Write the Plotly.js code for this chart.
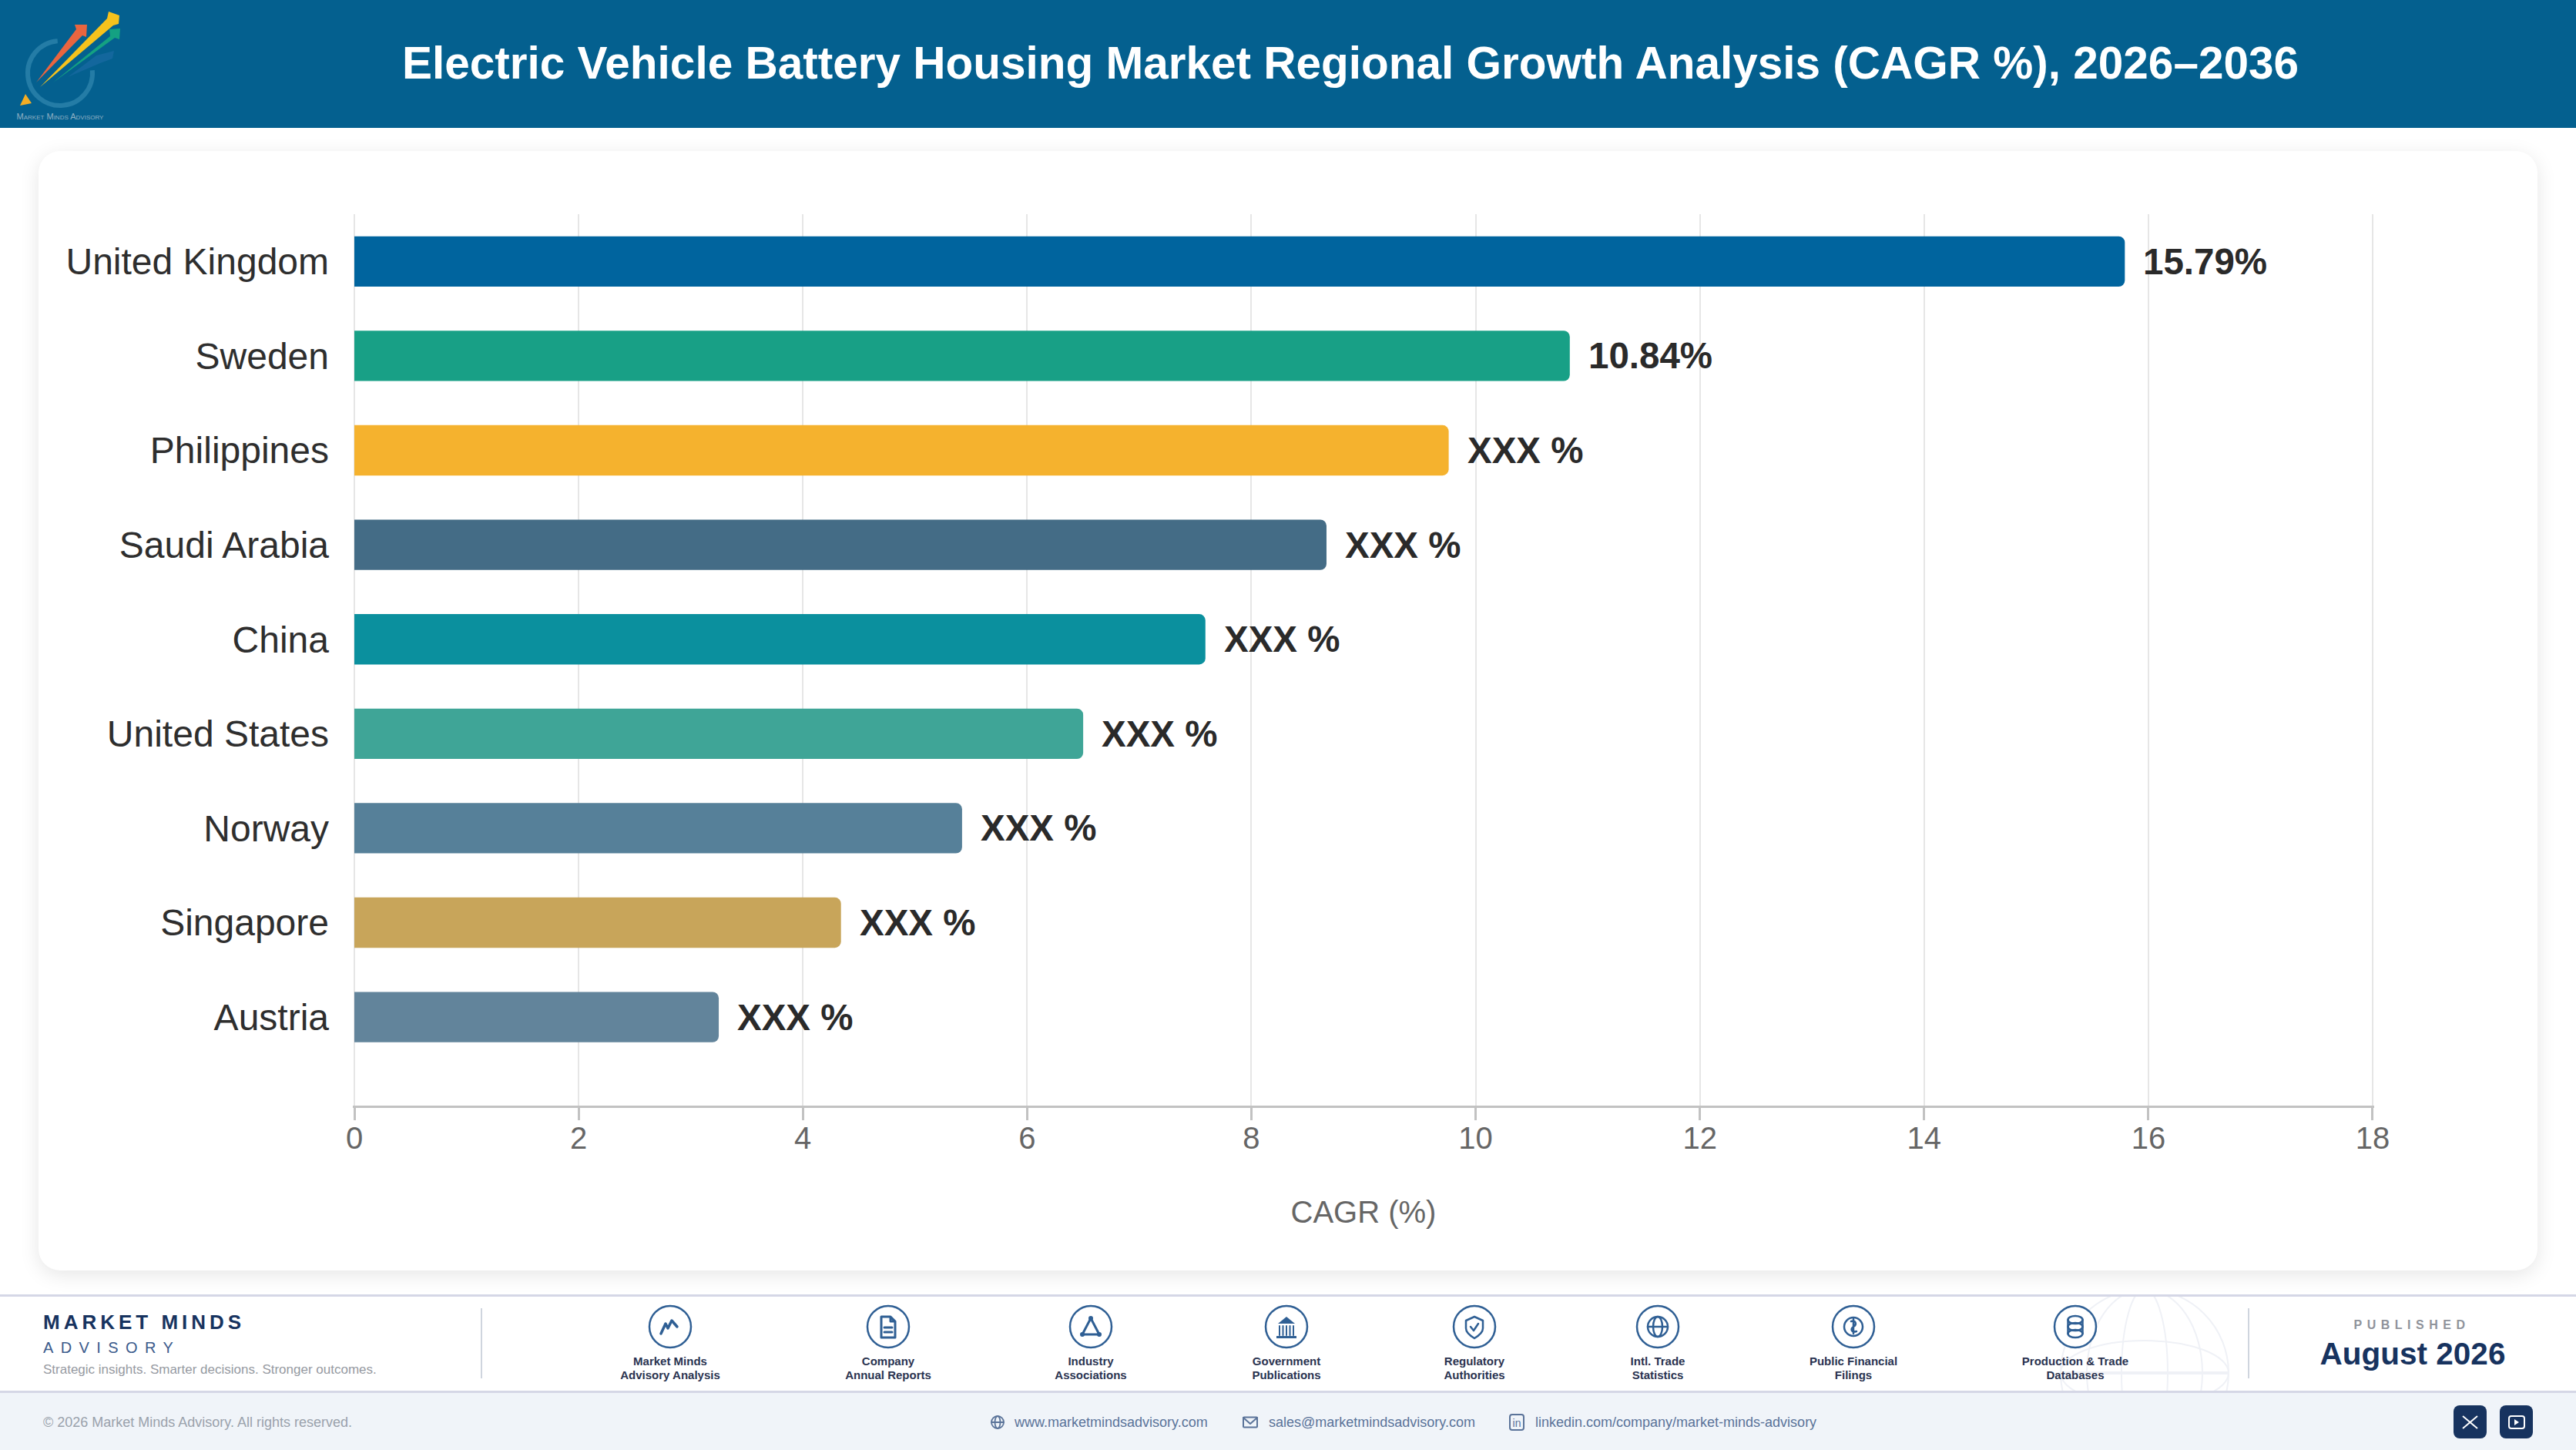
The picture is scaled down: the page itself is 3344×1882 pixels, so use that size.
<!DOCTYPE html>
<html><head><meta charset="utf-8">
<script src="https://cdn.plot.ly/plotly-3.0.1.min.js"></script>
<style>
html,body{margin:0;padding:0;width:3344px;height:1882px;background:#fff;overflow:hidden;font-family:"Liberation Sans",Arial,sans-serif}
.abs{position:absolute}
.t{position:absolute;white-space:nowrap;line-height:1}
.c{transform:translate(-50%,-50%)}
.l{transform:translateY(-50%)}
svg{position:absolute;left:0;top:0}
</style></head><body>
<div class="abs" style="left:0;top:0;width:3344px;height:166px;background:#04608f"></div>
<div class="abs" style="left:50px;top:196px;width:3244px;height:1453px;background:#fff;border-radius:28px;box-shadow:0 6px 26px rgba(0,0,0,0.10)"></div>
<div class="abs" style="left:0;top:1680px;width:3344px;height:202px;background:#fff"></div>
<div class="abs" style="left:0;top:1680px;width:3344px;height:3px;background:#d5d7e6"></div>
<div class="abs" style="left:0;top:1805px;width:3344px;height:77px;background:#f0f4f9;border-top:3px solid #d5d7e6;box-sizing:border-box"></div>
<div class="abs" style="left:624px;top:1698px;width:2px;height:91px;background:#cfd5de"></div>
<div class="abs" style="left:2918px;top:1698px;width:2px;height:91px;background:#cfd5de"></div>
<svg id="art" width="3344" height="1882" viewBox="0 0 3344 1882"></svg>
<div id="chrome"></div>
<div id="plot" class="abs" style="left:0;top:0;width:3344px;height:1882px"></div>
<script>
var categories = ["United Kingdom","Sweden","Philippines","Saudi Arabia","China","United States","Norway","Singapore","Austria"];
var cagrValues = [15.79,10.84,9.76,8.67,7.59,6.5,5.42,4.34,3.25];
var valueLabels = ["15.79%","10.84%","XXX %","XXX %","XXX %","XXX %","XXX %","XXX %","XXX %"];
var barColors = ["#00649e","#18a086","#f5b22e","#446c86","#0b909e","#3fa597","#568099","#c8a55a","#62849b"];
var xTicks = [0,2,4,6,8,10,12,14,16,18];
var chartTitle = "Electric Vehicle Battery Housing Market Regional Growth Analysis (CAGR %), 2026–2036";
var xTitle = "CAGR (%)";
var sourceLabels = [["Market Minds","Advisory Analysis"],["Company","Annual Reports"],["Industry","Associations"],["Government","Publications"],["Regulatory","Authorities"],["Intl. Trade","Statistics"],["Public Financial","Filings"],["Production & Trade","Databases"]];
var sourceCenters = [870,1153,1416,1670,1914,2152,2406,2694];

var FONT = '"Liberation Sans", Arial, sans-serif';
var traces = [{
  type:'bar', orientation:'h', y:categories, x:cagrValues, width:0.533,
  marker:{color:barColors,line:{width:0}}, hoverinfo:'skip', showlegend:false
}];
var annotations = categories.map(function(c,i){
  return {x:cagrValues[i],y:c,xref:'x',yref:'y',text:valueLabels[i],showarrow:false,xanchor:'left',yanchor:'middle',xshift:22,
    font:{family:FONT,size:47.5,color:'#2a2a2a',weight:700}};
});
var layout = {
  width:3344,height:1882,paper_bgcolor:'rgba(0,0,0,0)',plot_bgcolor:'rgba(0,0,0,0)',
  margin:{l:458,r:262,t:278,b:447,pad:0},font:{family:FONT},barcornerradius:8,showlegend:false,
  title:{text:chartTitle,xref:'container',yref:'container',x:1753/3344,xanchor:'center',y:1-82/1882,yanchor:'middle',
    font:{family:FONT,size:58.5,color:'#ffffff',weight:700}},
  xaxis:{range:[-0.0138,18.0138],tickmode:'array',tickvals:xTicks,ticktext:xTicks.map(String),automargin:false,
    showgrid:true,gridcolor:'#e6e6e6',gridwidth:2,zeroline:false,showline:true,linecolor:'#c2c2c2',linewidth:3,
    ticks:'outside',ticklen:16,tickwidth:3,tickcolor:'#c2c2c2',ticklabelstandoff:-11,tickfont:{family:FONT,size:40,color:'#666666'},
    title:{text:xTitle,font:{family:FONT,size:40,color:'#666666'},standoff:61}},
  yaxis:{type:'category',categoryorder:'array',categoryarray:categories,range:[8.937,-0.5],automargin:false,
    showgrid:false,zeroline:false,showline:false,ticks:'',ticklabelstandoff:30,
    tickfont:{family:FONT,size:48,color:'#2e2e2e'}},
  annotations:annotations
};
Plotly.newPlot('plot',traces,layout,{displayModeBar:false,staticPlot:true});

// page furniture
var chrome=document.getElementById('chrome');
function txt(s,x,y,size,color,opt){opt=opt||{};var d=document.createElement('div');d.className='t '+(opt.center?'c':'l');d.textContent=s;
  d.style.cssText+=';left:'+x+'px;top:'+y+'px;font-size:'+size+'px;color:'+color+';font-weight:'+(opt.bold?700:400)+';letter-spacing:'+(opt.ls||0)+'px'+(opt.extra?';'+opt.extra:'');chrome.appendChild(d);}
txt("MARKET MINDS",56,1716,26,"#17335f",{bold:true,ls:5});
txt("ADVISORY",56,1749,20,"#3b5b8c",{ls:9.4});
txt("Strategic insights. Smarter decisions. Stronger outcomes.",56,1777,17,"#969aa2");
txt("© 2026 Market Minds Advisory. All rights reserved.",56,1846,18,"#9aa2ac");
txt("www.marketmindsadvisory.com",1317,1846,18,"#5a7399");
txt("sales@marketmindsadvisory.com",1647,1846,18,"#5a7399");
txt("linkedin.com/company/market-minds-advisory",1993,1846,18,"#5a7399");
txt("PUBLISHED",3131,1720,16,"#8f939b",{center:true,bold:true,ls:6.5});
txt("August 2026",3132,1757,40.5,"#17335f",{center:true,bold:true});
txt("Market Minds Advisory",78,151,11,"#8fb0c4",{center:true,extra:'font-variant:small-caps'});
sourceLabels.forEach(function(l,i){
  txt(l[0],sourceCenters[i],1766,15,"#2a3350",{center:true,bold:true});
  txt(l[1],sourceCenters[i],1784,15,"#2a3350",{center:true,bold:true});
});

var B='#2f5f94';
function s(o){return ' fill="'+(o&&o.f||'none')+'" stroke="'+(o&&o.c||B)+'" stroke-width="'+(o&&o.w||2.5)+'" stroke-linejoin="round" stroke-linecap="round" ';}
var icons=[
 '<polyline points="-12,9 -6,-4 -3,2 2,-8 9,0"'+s({w:3.5})+'/>',
 '<path d="M-9,-13 H3 L9,-7 V14 H-9 Z M3,-13 V-7 H9 M-5,1 H5 M-5,7 H5"'+s({w:3})+'/>',
 '<path d="M0,-11 L-11,10 H11 Z"'+s({w:3})+'/><circle cx="0" cy="-11" r="3" fill="'+B+'"/><circle cx="-11" cy="10" r="3" fill="'+B+'"/><circle cx="11" cy="10" r="3" fill="'+B+'"/>',
 '<path d="M0,-13 L11,-4 H-11 Z" fill="'+B+'"/><path d="M-9,-1 V11 M-4.500,-1 V11 M0,-1 V11 M4.500,-1 V11 M9,-1 V11"'+s({w:2})+'/><rect x="-13" y="12" width="26" height="3" fill="'+B+'"/>',
 '<path d="M0,-13 L11,-8 V2 C11,8 5,12 0,15 C-5,12 -11,8 -11,2 V-8 Z"'+s()+'/><path d="M-5,0 L-1,5 L5,-4"'+s()+'/>',
 '<circle r="13"'+s()+'/><ellipse rx="6" ry="13"'+s()+'/><path d="M-13,0 H13"'+s()+'/>',
 '<circle r="12"'+s()+'/><path d="M-3,-7 C3,-9 5,-3 0,0 C-4,3 -3,8 4,6 M0,-10 V9"'+s()+'/>',
 '<ellipse cx="0" cy="-9" rx="9.500" ry="5"'+s()+'/><ellipse cx="0" cy="0" rx="9.500" ry="5"'+s()+'/><ellipse cx="0" cy="9" rx="9.500" ry="5"'+s()+'/><path d="M-9.500,-9 V9 M9.500,-9 V9"'+s()+'/>'
];
var h='<defs><clipPath id="fc"><rect x="0" y="1683" width="3344" height="122"/></clipPath></defs>';
// faint globe watermark
h+='<g clip-path="url(#fc)"><g transform="translate(2784,1782)" fill="none" stroke="#eff1f6" stroke-width="2"><circle r="109"/><ellipse rx="75" ry="109"/><ellipse rx="30" ry="109"/><ellipse rx="109" ry="42"/><path d="M-109,0 H109" stroke-width="4"/></g></g>';
sourceCenters.forEach(function(cx,i){
  h+='<g transform="translate('+cx+',1722)"><circle r="27" fill="#fff" stroke="'+B+'" stroke-width="2.5"/>'+icons[i]+'</g>';
});
// logo
h+='<circle cx="78" cy="95" r="42" fill="none" stroke="#2f86ad" stroke-width="6" stroke-dasharray="198 66" transform="rotate(-5 78 95)" opacity="0.75"/>';
h+='<path d="M47,107 L99,38 L97,32 L113,32 L112,48 L107,46 Z" fill="#e9653f"/>';
h+='<path d="M52,113 L139,24 L141,15 L155,20 L154,31 L147,33 Z" fill="#f6c21c"/>';
h+='<path d="M69,107 L143,47 L142,38 L156,37 L155,51 L149,49 Z" fill="#14a182"/>';
h+='<path d="M88,100 L125,72 L148,66 L146,76 L130,82 Z" fill="#1a6ba3" opacity="0.7"/>';
h+='<path d="M33,122 L41,134 L26,137 Z" fill="#f5ad23"/>';
// footer contact icons
var M='#5a7399';
h+='<g transform="translate(1295,1846)"><circle r="8"'+s({c:M,w:1.800})+'/><ellipse rx="3.500" ry="8"'+s({c:M,w:1.800})+'/><path d="M-8,0 H8"'+s({c:M,w:1.800})+'/></g>';
h+='<g transform="translate(1623,1846)"><rect x="-9" y="-6.500" width="18" height="13" rx="1"'+s({c:M,w:2})+'/><path d="M-9,-6 L0,2 L9,-6"'+s({c:M,w:2})+'/></g>';
h+='<g transform="translate(1969,1846)"><rect x="-9" y="-10" width="18" height="20" rx="3"'+s({c:M,w:2})+'/><text x="0" y="6" text-anchor="middle" font-size="14" font-family="Liberation Sans" fill="'+M+'">in</text></g>';
h+='<rect x="3185" y="1824" width="43" height="43" rx="8" fill="#17335f"/><path d="M3197,1838 L3216,1854 M3216,1838 L3197,1854" stroke="#fff" stroke-width="2" fill="none"/>';
h+='<rect x="3245" y="1824" width="43" height="43" rx="8" fill="#17335f"/><rect x="3257" y="1838" width="20" height="16" rx="3" fill="none" stroke="#fff" stroke-width="2"/><path d="M3264,1842 L3270,1846 L3264,1850 Z" fill="#fff"/>';
document.getElementById('art').innerHTML=h;
</script>
</body></html>
